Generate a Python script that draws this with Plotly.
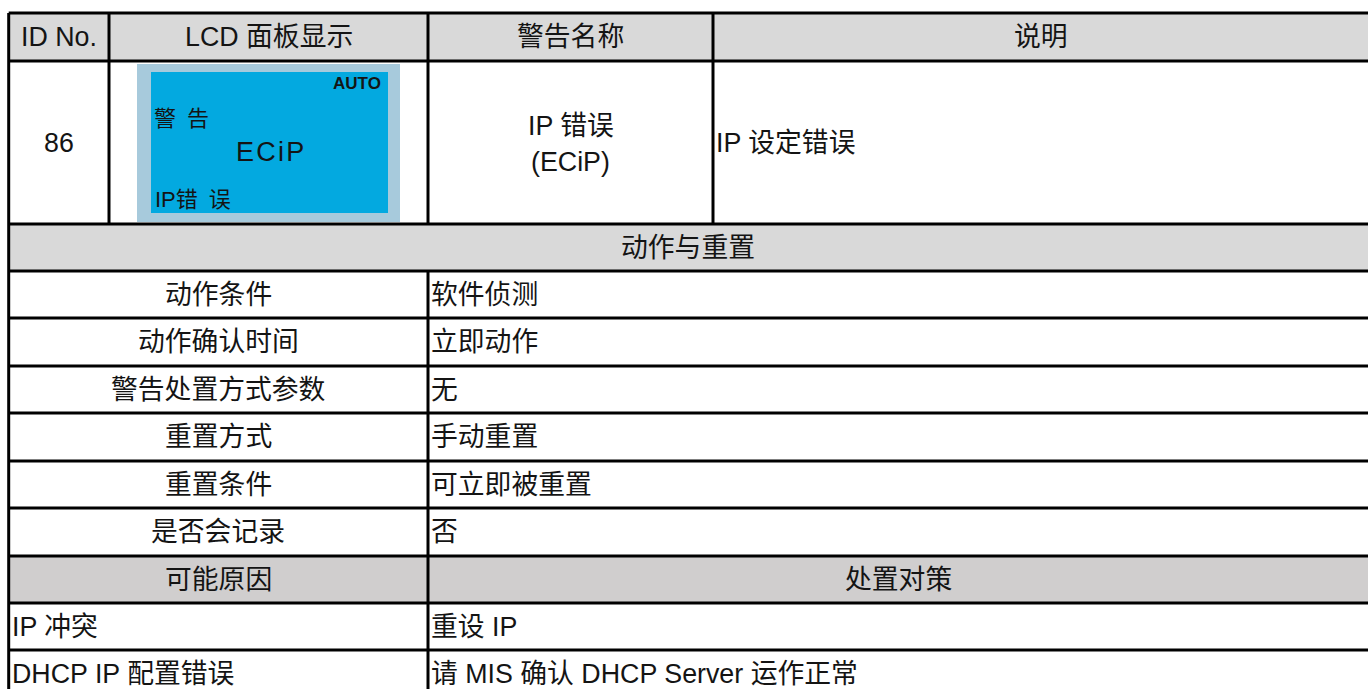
import plotly.graph_objects as go

# ---- table content ----
header_cols = ["ID No.", "LCD 面板显示", "警告名称", "说明"]
id_no = "86"
lcd_auto = "AUTO"
lcd_title = "警\u2002告"
lcd_code = "E\u200aC\u200ai\u200aP"
lcd_name = "IP错\u2002误"
warning_name = ["IP 错误", "(ECiP)"]
description = "IP 设定错误"
section_title = "动作与重置"
action_items = ["动作条件", "动作确认时间", "警告处置方式参数", "重置方式", "重置条件", "是否会记录"]
action_values = ["软件侦测", "立即动作", "无", "手动重置", "可立即被重置", "否"]
cause_headers = ["可能原因", "处置对策"]
causes = ["IP 冲突", "DHCP IP 配置错误"]
remedies = ["重设 IP", "请 MIS 确认 DHCP Server 运作正常"]

# ---- layout geometry (pixels) ----
W, H = 1368, 689
XL, XR = 8.7, 1374
col_x = [XL, 109, 428, 713, XR]
row_y = [13, 61, 224, 271, 318, 366, 413, 461, 508, 556, 603, 650, 697]
FONT = "Liberation Sans, Arial, Noto Sans CJK SC, sans-serif"
CJK = "Noto Sans CJK SC, Liberation Sans, sans-serif"
TXT = "#141414"
LW = 3
FS = 26.8

shapes = []
annots = []


def rect(x0, y0, x1, y1, fill):
    shapes.append(dict(type="rect", xref="x", yref="y", x0=x0, y0=y0, x1=x1, y1=y1,
                       fillcolor=fill, line=dict(width=0), layer="below"))


def line(x0, y0, x1, y1):
    shapes.append(dict(type="line", xref="x", yref="y", x0=x0, y0=y0, x1=x1, y1=y1,
                       line=dict(color="black", width=LW)))


def text(x, y, s, size=FS, anchor="center", family=FONT, color=TXT, bold=False):
    if bold:
        s = "<b>" + s + "</b>"
    annots.append(dict(x=x, y=y, xref="x", yref="y", text=s, showarrow=False,
                       xanchor=anchor, yanchor="middle",
                       font=dict(family=family, size=size, color=color)))


# gray bands
rect(XL, row_y[0], XR, row_y[1], "#d9d9d9")
rect(XL, row_y[2], XR, row_y[3], "#d9d9d9")
rect(XL, row_y[9], XR, row_y[10], "#d0cece")

# LCD panel
rect(137, 64, 400, 222, "#a7cadc")
rect(151, 72, 388, 213, "#03a9e0")

# grid lines
for y in row_y[:-1]:
    line(XL, y, XR, y)
line(XL, row_y[0], XL, row_y[-1])
for x in col_x[1:4]:
    line(x, row_y[0], x, row_y[2])
line(col_x[2], row_y[3], col_x[2], row_y[-1])

# header
for i, h in enumerate(header_cols):
    text((col_x[i] + col_x[i + 1]) / 2 if i < 3 else (col_x[3] + 1368) / 2, (row_y[0] + row_y[1]) / 2, h)

# main row
cy = (row_y[1] + row_y[2]) / 2
text((col_x[0] + col_x[1]) / 2, cy, id_no)
text((col_x[2] + col_x[3]) / 2, cy - 17, warning_name[0])
text((col_x[2] + col_x[3]) / 2, cy + 19, warning_name[1])
text(col_x[3] + 1, cy, description, anchor="left")

# LCD texts
text(383, 83, lcd_auto, size=17, anchor="right", bold=True)
text(152, 116, lcd_title, size=22, anchor="left", family=CJK)
text(270, 152, lcd_code, size=27, anchor="center")
text(153, 199, lcd_name, size=22, anchor="left")

# section title
text((XL + 1368) / 2, (row_y[2] + row_y[3]) / 2, section_title)

# action rows
for i, (k, v) in enumerate(zip(action_items, action_values)):
    yc = (row_y[3 + i] + row_y[4 + i]) / 2
    text((XL + col_x[2]) / 2, yc, k)
    text(col_x[2] + 1, yc, v, anchor="left")

# causes header
yc = (row_y[9] + row_y[10]) / 2
text((XL + col_x[2]) / 2, yc, cause_headers[0])
text((col_x[2] + 1368) / 2, yc, cause_headers[1])

for i, (c, r) in enumerate(zip(causes, remedies)):
    yc = (row_y[10 + i] + row_y[11 + i]) / 2
    text(XL + 1, yc, c, anchor="left")
    text(col_x[2] + 1, yc, r, anchor="left")

fig = go.Figure()
fig.update_layout(
    width=W, height=H, margin=dict(l=0, r=0, t=0, b=0),
    paper_bgcolor="white", plot_bgcolor="white",
    xaxis=dict(range=[0, W], visible=False, fixedrange=True),
    yaxis=dict(range=[H, 0], visible=False, fixedrange=True),
    shapes=shapes, annotations=annots, showlegend=False,
)
fig.write_html("out.html", config={"displayModeBar": False},
               post_script="document.body.style.margin='0';document.body.style.overflow='hidden';")
